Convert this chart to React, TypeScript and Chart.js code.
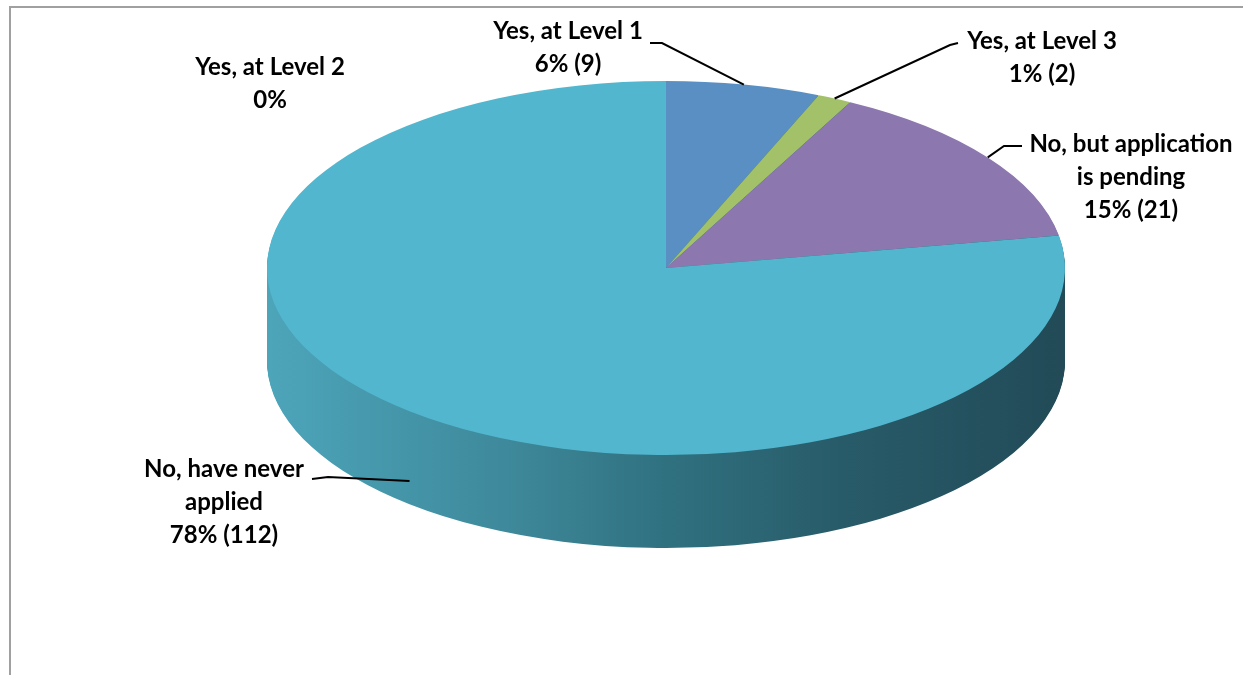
import React, { useEffect, useRef } from "react";
import { Chart, registerables } from "chart.js";

Chart.register(...registerables);

// ---- data ----
const categories = [
  "Yes, at Level 1",
  "Yes, at Level 2",
  "Yes, at Level 3",
  "No, but application is pending",
  "No, have never applied",
];
const counts = [9, 0, 2, 21, 112];
const percentLabels = ["6%", "0%", "1%", "15%", "78%"];
// how each category name wraps in its data label
const categoryLines = [
  ["Yes, at Level 1"],
  ["Yes, at Level 2"],
  ["Yes, at Level 3"],
  ["No, but application", "is pending"],
  ["No, have never", "applied"],
];
const sliceColors = ["#5A8FC4", "#C0504D", "#A2C168", "#8D77AF", "#52B7CE"];

// ---- layout / style ----
const ELL = { cx: 666, cy: 268, rx: 399, ry: 187, depth: 93 };
const LABEL_POS = [
  { x: 568, y: 31 },
  { x: 270, y: 67 },
  { x: 1042, y: 41 },
  { x: 1131, y: 144 },
  { x: 224, y: 469 },
];
const LINE_H = 33;
const LEADERS: (null | { start: [number, number]; elbow: [number, number]; depthFrac: number })[] = [
  { start: [650, 43], elbow: [662, 43], depthFrac: 0 },
  null,
  { start: [958, 43], elbow: [950, 45], depthFrac: 0 },
  { start: [1022, 146], elbow: [1004, 146], depthFrac: 0 },
  { start: [312, 479], elbow: [328, 477], depthFrac: 0.75 },
];
const FONT = "bold 24px Lato, 'Open Sans', sans-serif";

const pie3d = {
  id: "pie3d",
  beforeDatasetsDraw(chart: any) {
    const meta = chart.getDatasetMeta(0);
    const arcs = meta.data;
    const a0 = arcs[0];
    const cx = a0.x, cy = a0.y, r = a0.outerRadius;
    const sx = ELL.rx / r, sy = ELL.ry / r;
    const ctx = chart.ctx as CanvasRenderingContext2D;
    const grad = ctx.createLinearGradient(cx - r, 0, cx + r, 0);
    grad.addColorStop(0, "#4DA5BA");
    grad.addColorStop(0.3, "#3E899B");
    grad.addColorStop(0.5, "#307180");
    grad.addColorStop(0.72, "#285B69");
    grad.addColorStop(1, "#224A57");
    for (let d = ELL.depth; d >= 1; d--) {
      ctx.save();
      ctx.translate(ELL.cx, ELL.cy + d);
      ctx.scale(sx, sy);
      ctx.translate(-cx, -cy);
      for (const arc of arcs) {
        const fake = Object.create(arc);
        fake.options = { ...arc.options, backgroundColor: grad, borderWidth: 0 };
        arc.constructor.prototype.draw.call(fake, ctx);
      }
      ctx.restore();
    }
    ctx.save();
    ctx.translate(ELL.cx, ELL.cy);
    ctx.scale(sx, sy);
    ctx.translate(-cx, -cy);
  },
  afterDatasetsDraw(chart: any) {
    chart.ctx.restore();
  },
  afterDraw(chart: any) {
    const ctx = chart.ctx as CanvasRenderingContext2D;
    const arcs = chart.getDatasetMeta(0).data;
    ctx.save();
    // leader lines
    ctx.strokeStyle = "#000";
    ctx.lineWidth = 2;
    arcs.forEach((arc: any, i: number) => {
      const L = LEADERS[i];
      if (!L) return;
      const mid = (arc.startAngle + arc.endAngle) / 2;
      const ex = ELL.cx + ELL.rx * Math.cos(mid);
      const ey = ELL.cy + ELL.ry * Math.sin(mid) + ELL.depth * L.depthFrac;
      ctx.beginPath();
      ctx.moveTo(L.start[0], L.start[1]);
      ctx.lineTo(L.elbow[0], L.elbow[1]);
      ctx.lineTo(ex, ey);
      ctx.stroke();
    });
    // labels
    ctx.fillStyle = "#000";
    ctx.font = FONT;
    ctx.textAlign = "center";
    ctx.textBaseline = "middle";
    categories.forEach((_c, i) => {
      const lines = [...categoryLines[i]];
      lines.push(counts[i] > 0 ? `${percentLabels[i]} (${counts[i]})` : percentLabels[i]);
      const p = LABEL_POS[i];
      lines.forEach((t, k) => ctx.fillText(t, p.x, p.y + k * LINE_H));
    });
    ctx.restore();
  },
};

export default function App() {
  const ref = useRef<HTMLCanvasElement>(null);
  useEffect(() => {
    if (!ref.current) return;
    const chart = new Chart(ref.current, {
      type: "pie",
      data: {
        labels: categories,
        datasets: [
          {
            data: counts,
            backgroundColor: sliceColors,
            borderWidth: 0,
            clip: false as any,
          } as any,
        ],
      },
      options: {
        responsive: false,
        animation: false,
        events: [],
        layout: { padding: 20 },
        plugins: { legend: { display: false }, tooltip: { enabled: false } },
      },
      plugins: [pie3d],
    });
    return () => chart.destroy();
  }, []);
  return (
    <div style={{ position: "fixed", left: 0, top: 0, width: 1243, height: 675, background: "#fff", overflow: "hidden" }}>
      <div
        style={{
          position: "absolute",
          left: 9,
          top: 6,
          width: 1300,
          height: 700,
          borderTop: "2px solid #A0A0A0",
          borderLeft: "2px solid #A0A0A0",
          pointerEvents: "none",
        }}
      />
      <canvas ref={ref} width={1243} height={675} style={{ position: "absolute", left: 0, top: 0 }} />
    </div>
  );
}
